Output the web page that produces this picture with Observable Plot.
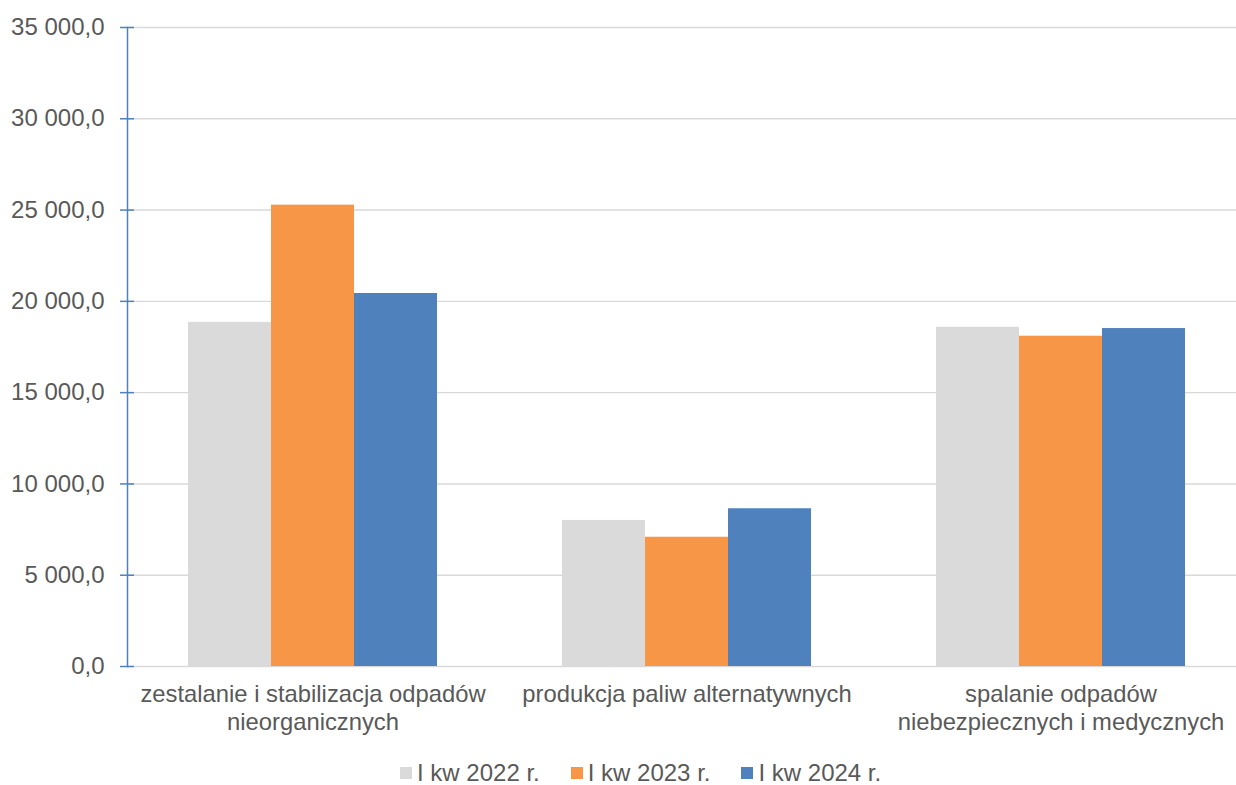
<!DOCTYPE html>
<html>
<head>
<meta charset="utf-8">
<script src="https://cdn.jsdelivr.net/npm/d3@7"></script>
<script src="https://cdn.jsdelivr.net/npm/@observablehq/plot@0.6"></script>
<style>
  html, body { margin: 0; padding: 0; background: #fff; overflow: hidden; }
  #chart svg { overflow: hidden; }
  .lg-swatches { margin-left: 400px !important; font-family: "Liberation Sans", Arial, sans-serif !important; font-size: 24px !important; color: #595959 !important; line-height: 30px; min-height: 30px !important; }
  .lg-swatch { margin-right: 31px !important; }
  .lg-swatch > svg { margin-right: 5px !important; }
</style>
</head>
<body>
<div id="chart"></div>
<script>
const categories = [
  "zestalanie i stabilizacja odpadów\nnieorganicznych",
  "produkcja paliw alternatywnych",
  "spalanie odpadów\nniebezpiecznych i medycznych"
];
const series = ["I kw 2022 r.", "I kw 2023 r.", "I kw 2024 r."];
const v2022 = [18850, 8000, 18580];
const v2023 = [25270, 7080, 18090];
const v2024 = [20430, 8640, 18510];
const colors = ["#dadada", "#f79646", "#4f81bd"];
const yTicks = [0, 5000, 10000, 15000, 20000, 25000, 30000, 35000];

const valuesBySeries = [v2022, v2023, v2024];
const rows = [];
categories.forEach((c, i) => {
  series.forEach((s, j) => rows.push({category: c, series: s, value: valuesBySeries[j][i]}));
});

const pl = d3.formatLocale({decimal: ",", thousands: " ", grouping: [3], currency: ["", ""]});
const fmt = pl.format(",.1f");
const font = "Liberation Sans, Arial, sans-serif";
const grey = "#595959";
const blue = "#4f81bd";

const chart = Plot.plot({
  width: 1236,
  height: 758,
  marginTop: 27,
  marginBottom: 92,
  marginLeft: 126,
  marginRight: 0,
  style: {fontFamily: font, background: "#fff"},
  fx: {domain: categories, range: [126, 1249], padding: 0},
  x: {domain: series, paddingInner: 0, paddingOuter: 0.73, align: 0.484, axis: null},
  y: {domain: [0, 35000], axis: null},
  color: {domain: series, range: colors},
  marks: [
    Plot.gridY(yTicks, {stroke: "#d9d9d9", strokeOpacity: 1, strokeWidth: 1.4}),
    Plot.barY(rows, {fx: "category", x: "series", y: "value", fill: "series"}),
    Plot.frame({anchor: "left", facetAnchor: "left", stroke: blue, strokeWidth: 1.5}),
    Plot.axisY(yTicks, {tickSize: 14, dx: 7, color: blue, strokeWidth: 1.5, tickFormat: () => "", label: null}),
    Plot.axisY(yTicks, {tickSize: 0, tickPadding: 23, color: grey, fontSize: 24, tickFormat: fmt, label: null}),
    Plot.axisFx({anchor: "bottom", tickSize: 0, tickPadding: 16, dx: -1.5, color: grey, fontSize: 23.8, lineHeight: 1.17, label: null})
  ]
});
document.getElementById("chart").appendChild(chart);

const legend = Plot.legend({
  color: {domain: series, range: colors},
  legend: "swatches",
  swatchSize: 12,
  className: "lg"
});
document.getElementById("chart").appendChild(legend);
</script>
</body>
</html>
